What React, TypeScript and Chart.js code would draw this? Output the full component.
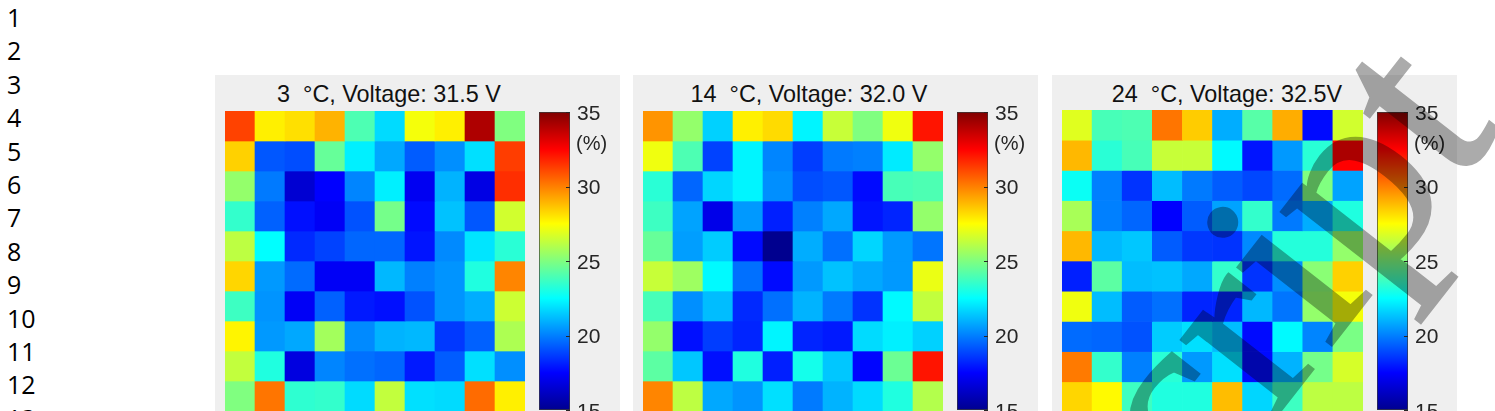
import Chart from 'chart.js/auto';
import { useEffect, useRef } from 'react';

const cold = [
  [31.2, 27.8, 28.1, 29.0, 24.0, 21.8, 27.3, 27.8, 34.1, 25.0],
  [28.4, 19.2, 19.0, 24.5, 22.2, 20.8, 19.3, 20.3, 21.9, 31.3],
  [25.4, 19.9, 16.5, 17.5, 20.1, 22.2, 17.2, 21.0, 16.9, 31.6],
  [23.5, 19.4, 17.8, 17.3, 19.1, 24.8, 17.7, 21.3, 19.2, 26.6],
  [26.2, 22.5, 18.3, 18.8, 19.5, 19.5, 17.9, 20.2, 22.0, 23.3],
  [28.3, 20.5, 19.6, 17.3, 17.3, 21.1, 20.0, 20.4, 23.1, 29.9],
  [23.7, 20.4, 17.3, 19.4, 18.0, 17.8, 19.1, 20.4, 20.9, 26.5],
  [27.7, 20.5, 20.8, 25.7, 20.2, 21.0, 21.1, 18.6, 19.4, 25.9],
  [26.3, 23.1, 16.8, 20.1, 19.7, 19.5, 18.0, 19.3, 21.9, 20.3],
  [25.0, 30.2, 23.4, 23.5, 21.8, 26.3, 21.9, 21.8, 30.4, 27.8],
];
const mid = [
  [29.6, 25.4, 21.6, 27.8, 28.2, 22.3, 26.4, 25.0, 27.2, 32.1],
  [27.2, 24.0, 18.8, 22.3, 20.1, 18.7, 19.9, 20.0, 22.1, 25.4],
  [23.3, 19.5, 21.7, 22.3, 20.3, 19.0, 19.2, 17.7, 23.9, 24.0],
  [23.7, 20.7, 17.0, 20.5, 18.1, 20.0, 20.8, 17.9, 18.2, 25.4],
  [24.5, 20.6, 21.5, 17.7, 15.0, 20.9, 19.7, 21.7, 20.5, 19.8],
  [26.4, 25.6, 22.4, 19.7, 17.7, 20.5, 21.3, 20.8, 20.5, 27.1],
  [23.9, 20.3, 21.2, 18.3, 19.7, 21.0, 19.9, 18.5, 22.4, 26.3],
  [25.4, 17.8, 18.7, 18.2, 22.3, 18.2, 18.0, 21.8, 22.2, 21.6],
  [24.3, 21.4, 17.8, 23.1, 18.1, 22.9, 21.4, 17.6, 24.6, 32.1],
  [29.9, 26.2, 20.8, 20.4, 21.9, 19.9, 21.0, 21.8, 23.1, 26.0],
];
const warm = [
  [26.9, 23.9, 24.0, 30.2, 28.5, 20.9, 24.2, 29.1, 17.7, 26.6],
  [28.9, 23.3, 23.9, 26.4, 26.4, 22.4, 17.9, 20.5, 23.3, 32.5],
  [22.7, 20.0, 18.5, 21.2, 19.9, 19.3, 18.9, 19.6, 25.0, 20.7],
  [25.8, 20.0, 19.5, 17.5, 19.3, 20.7, 23.5, 19.9, 20.9, 23.1],
  [28.9, 21.1, 21.4, 19.3, 18.6, 18.5, 20.2, 23.2, 23.2, 25.4],
  [18.1, 24.3, 21.2, 21.3, 20.8, 23.5, 18.5, 20.3, 25.2, 28.4],
  [27.2, 21.2, 19.3, 19.7, 18.2, 18.2, 21.1, 19.8, 25.4, 27.3],
  [19.6, 19.5, 19.1, 21.5, 21.9, 21.2, 17.7, 22.4, 20.1, 24.9],
  [30.1, 23.5, 20.0, 23.3, 20.5, 21.9, 17.7, 21.0, 24.8, 26.7],
  [28.3, 27.6, 23.7, 23.1, 23.1, 28.8, 21.7, 23.7, 26.2, 26.2],
];
const columns = ['1', '2', '3', '4', '5', '6', '7', '8', '9', '10'];
const colorbarTicks = [15, 20, 25, 30, 35];
const lineNumbers = ['1', '2', '3', '4', '5', '6', '7', '8', '9', '10', '11', '12', '13'];

const VMIN = 15;
const VMAX = 35;
const JET: [number, number, number, number][] = [
  [0, 0, 0, 143],
  [0.125, 0, 0, 255],
  [0.375, 0, 255, 255],
  [0.625, 255, 255, 0],
  [0.875, 255, 0, 0],
  [1, 128, 0, 0],
];

function jetColor(v: number) {
  const f = Math.min(1, Math.max(0, (v - VMIN) / (VMAX - VMIN)));
  let i = 0;
  while (i < JET.length - 2 && f > JET[i + 1][0]) i++;
  const a = JET[i];
  const b = JET[i + 1];
  const t = (f - a[0]) / (b[0] - a[0]);
  const c = [1, 2, 3].map((k) => Math.round(a[k] + (b[k] - a[k]) * t));
  return `rgb(${c[0]},${c[1]},${c[2]})`;
}

const barTicksPlugin = {
  id: 'innerTicks',
  afterDatasetsDraw(chart: any) {
    const { ctx, chartArea, scales } = chart;
    ctx.save();
    ctx.strokeStyle = '#262626';
    ctx.lineWidth = 1;
    colorbarTicks.forEach((v) => {
      const y = Math.round(scales.y.getPixelForValue(v)) + 0.5;
      ctx.beginPath();
      ctx.moveTo(chartArea.right - 4, y);
      ctx.lineTo(chartArea.right, y);
      ctx.stroke();
    });
    ctx.restore();
  },
};

function Heatmap({ rows, width, height }: { rows: number[][]; width: number; height: number }) {
  const ref = useRef<HTMLCanvasElement>(null);
  useEffect(() => {
    const chart = new Chart(ref.current!, {
      type: 'bar',
      data: {
        labels: columns,
        datasets: rows.map((row) => ({
          data: row.map(() => 1),
          backgroundColor: row.map(jetColor),
          borderWidth: 0,
          categoryPercentage: 1,
          barPercentage: 1,
        })),
      },
      options: {
        responsive: false,
        animation: false,
        plugins: { legend: { display: false }, tooltip: { enabled: false } },
        scales: {
          x: { display: false, stacked: true },
          y: { display: false, stacked: true, reverse: true, min: 0, max: rows.length },
        },
      },
    } as any);
    return () => chart.destroy();
  }, [rows]);
  return <canvas ref={ref} width={width} height={height} style={{ display: 'block' }} />;
}

function Colorbar() {
  const ref = useRef<HTMLCanvasElement>(null);
  useEffect(() => {
    const chart = new Chart(ref.current!, {
      type: 'bar',
      data: {
        labels: ['%'],
        datasets: [{
          data: [[VMIN, VMAX]],
          backgroundColor: (c: any) => {
            const area = c.chart.chartArea;
            if (!area) return '#000';
            const g = c.chart.ctx.createLinearGradient(0, area.bottom, 0, area.top);
            JET.forEach((s) => g.addColorStop(s[0], `rgb(${s[1]},${s[2]},${s[3]})`));
            return g;
          },
          borderColor: '#3a3a3a',
          borderWidth: 1,
          borderSkipped: false,
          categoryPercentage: 1,
          barPercentage: 1,
        }],
      },
      options: {
        responsive: false,
        animation: false,
        layout: { padding: { top: 17, bottom: 20 } },
        plugins: { legend: { display: false }, tooltip: { enabled: false } },
        scales: {
          x: { display: false },
          y: {
            position: 'right',
            min: VMIN,
            max: VMAX,
            afterBuildTicks: (s: any) => { s.ticks = colorbarTicks.map((value) => ({ value })); },
            afterFit: (s: any) => { s.width = 49; s.paddingTop = 0; s.paddingBottom = 0; },
            grid: { drawOnChartArea: false, drawTicks: false },
            border: { display: false },
            ticks: {
              padding: 7,
              labelOffset: 2,
              color: '#262626',
              font: { family: '"Liberation Sans"', size: 21 },
            },
          },
        },
      },
      plugins: [barTicksPlugin],
    } as any);
    return () => chart.destroy();
  }, []);
  return <canvas ref={ref} width={80} height={335} style={{ display: 'block' }} />;
}

function Panel({ left, title, titleCenter, rows, mapTop, mapWidth, mapHeight, barLeft }: {
  left: number; title: string; titleCenter: number; rows: number[][];
  mapTop: number; mapWidth: number; mapHeight: number; barLeft: number;
}) {
  return (
    <div style={{ position: 'absolute', left, top: 75, width: 405, height: 336, background: '#efefef' }}>
      <div style={{
        position: 'absolute', left: titleCenter - 150, width: 300, top: 6, textAlign: 'center',
        font: '23.4px "Liberation Sans"', color: '#111', whiteSpace: 'pre',
      }}>{title}</div>
      <div style={{ position: 'absolute', left: 10, top: mapTop - 75 }}>
        <Heatmap rows={rows} width={mapWidth} height={mapHeight} />
      </div>
      <div style={{ position: 'absolute', left: barLeft, top: 20 }}>
        <Colorbar />
      </div>
      <div style={{
        position: 'absolute', left: barLeft + 37, top: 57, font: '20px "Liberation Sans"', color: '#262626',
      }}>(%)</div>
    </div>
  );
}

export default function App() {
  return (
    <div style={{ position: 'fixed', left: 0, top: 0, width: 1495, height: 411, overflow: 'hidden', background: '#fff' }}>
      <div style={{ position: 'absolute', left: 7, top: 1, font: '25px/33.4px "Open Sans"', color: '#000' }}>
        {lineNumbers.map((n) => <div key={n}>{n}</div>)}
      </div>
      <Panel left={215} title="3  °C, Voltage: 31.5 V" titleCenter={174} rows={cold} mapTop={111} mapWidth={300} mapHeight={300} barLeft={324} />
      <Panel left={633} title="14  °C, Voltage: 32.0 V" titleCenter={176} rows={mid} mapTop={111} mapWidth={300} mapHeight={300} barLeft={324} />
      <Panel left={1052} title="24  °C, Voltage: 32.5V" titleCenter={175} rows={warm} mapTop={110} mapWidth={301} mapHeight={302} barLeft={325} />
      <div style={{
        position: 'absolute', left: 1068, top: 538, font: '265px "Liberation Serif"', lineHeight: '0px',
        color: '#000', opacity: 0.33, WebkitTextStroke: '3px #000',
        transform: 'rotate(-52deg)', transformOrigin: '0 0', whiteSpace: 'pre',
      }}>script</div>
    </div>
  );
}
